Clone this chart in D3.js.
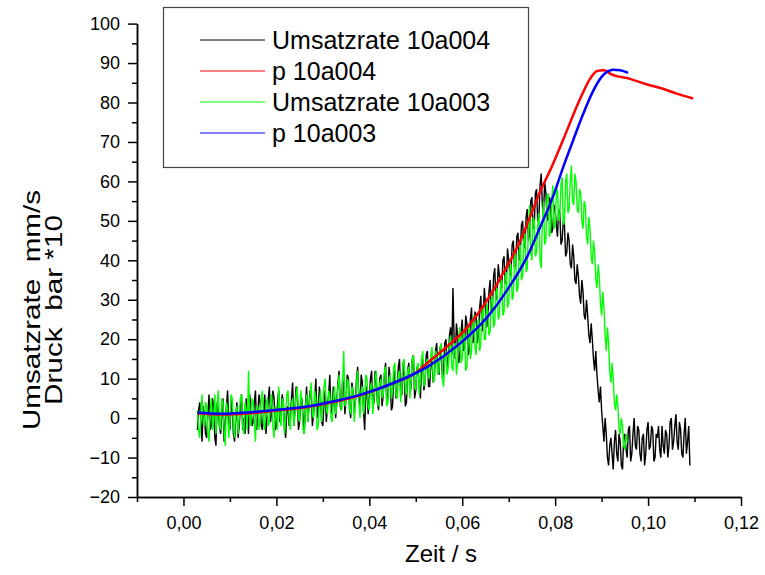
<!DOCTYPE html>
<html>
<head>
<meta charset="utf-8">
<script src="https://cdn.jsdelivr.net/npm/d3@7"></script>
<style>
  body { margin: 0; background: #fff; }
  svg { display: block; font-family: Arial, "Liberation Sans", sans-serif; }
</style>
</head>
<body>
<svg id="chart" width="765" height="575"></svg>
<script>
// noisy series are sampled every 0.25 ms starting at 3 ms
var t0 = 0.003, dt = 0.00025

var umsatz004 = [
  -3,2, 4,-1, -6,3, 1,-4, -5,1, 6,-3, -2,5, 3,-5, -7,4, 2,-2, -4,1, 5,-6, -1,3, 7,-2, -3,5, 2,-4, -6,0, 4,-5, -2,3, 6,-3,
  0,-4, 5,1, -4,6, 3,-2, -1,4, 7,-3, 1,6, 4,-2, -3,2, 6,-4, 0,5, 8,-1, 2,7, 5,-3, -2,4, 7,-1, 1,6, 4,-3, -5,2, 3,-2,
  0,5, 9,-2, 2,8, 6,-3, -1,4, 5,0, -4,3, 8,-1, 3,7, 6,-2, 1,5, 10,0, 2,8, 5,-1, -2,4, 7,-1, 3,6, 11,2, 1,8, 6,0,
  4,9, 12,3, 2,10, 8,1, 5,11, 10,2, 0,9, 7,1, 4,10, 13,5, 3,11, 9,2, -3,6, 8,1, 5,10, 12,3, 4,12, 9,4, 2,10, 11,3,
  6,11, 14,4, 5,13, 10,2, 3,10, 12,5, 7,13, 15,6, 6,14, 11,3, 4,12, 14,6, 8,15, 16,5, 7,13, 12,8, 5,14, 15,7, 9,16, 17,8,
  8,15, 14,9, 10,17, 19,12, 11,18, 16,10, 12,19, 20,13, 14,21, 23,16, 33,20, 15,24, 21,14, 16,22, 25,17, 18,26, 24,16, 17,25, 28,19, 20,27,
  26,19, 21,28, 31,22, 24,33, 29,23, 25,32, 35,27, 28,36, 38,30, 31,39, 36,34, 33,40, 41,34, 35,43, 40,36, 37,44, 45,38, 39,46, 47,40, 42,49,
  50,43, 44,51, 53,45, 47,55, 56,48, 49,57, 58,50, 51,59, 62,54, 52,60, 57,51, 50,56, 55,47, 48,54, 53,49, 46,53, 52,44, 45,50, 49,41, 42,47,
  45,39, 38,44, 41,35, 34,39, 36,31, 29,35, 32,26, 25,30, 26,21, 19,24, 20,15, 12,17, 11,7, 4,8, 2,-2, -6,0, -4,-10, -12,-7, -5,-9, -13,-6,
  -3,-9, -11,-4, -6,-12, -13,-5, -4,-8, -10,-3, -2,-11, -9,-4, 0,-7, -8,-2, -3,-9, -11,-5, -4,-12, -9,-3, -1,-8, -7,-2, -3,-11, -10,-4, -5,-2, -8,-10,
  -2,-7, -9,-3, -4,-10, -7,-1, 0,-8, -6,-2, 1,-6, -8,-1, -3,-9, -10,-4, 0,-9, -6,-2, -12
]

var umsatz003 = [
  2,-3, -5,1, 6,-1, -2,4, 3,-4, -6,2, 5,-3, 0,6, -4,3, 7,-2, -3,5, 4,-3, -7,4, 2,-5, -1,6, 5,-2, -5,2, 3,-4, 0,5, 6,-2,
  -4,4, 2,-3, 12,1, -2,5, 4,-1, -6,3, 3,-3, 0,5, 7,-1, -3,3, 5,-2, -1,4, 6,-2, -5,3, 2,-3, 8,1, -2,5, 4,-4, 0,6, 7,0,
  -3,4, 5,-2, 1,6, 8,0, -1,7, 4,-3, -4,2, 6,-1, 2,6, 9,1, 0,7, 5,-3, -2,4, 7,-1, 3,8, 10,2, 1,7, 6,0, -1,5, 8,1,
  3,8, 11,4, 2,9, 17,3, 4,10, 9,2, 1,8, 7,-1, 3,9, 12,4, 0,7, 8,1, 4,11, 10,3, 2,8, 9,1, 5,10, 12,4, 3,9, 10,5,
  6,12, 13,3, 4,10, 11,5, 7,13, 14,6, 5,11, 12,4, 8,14, 15,7, 6,12, 13,5, 9,15, 16,8, 7,13, 14,6, 10,15, 17,8, 9,14, 15,10,
  11,16, 18,9, 10,17, 16,11, 12,18, 19,10, 8,15, 17,11, 13,19, 21,13, 12,18, 19,11, 14,20, 23,14, 15,22, 21,12, 13,20, 24,15, 17,23, 26,18,
  16,24, 25,17, 19,27, 28,20, 20,29, 27,21, 22,30, 31,23, 24,32, 33,25, 26,34, 35,26, 27,36, 37,28, 29,38, 39,30, 31,40, 42,32, 33,42, 44,35,
  36,45, 47,37, 38,48, 54,42, 40,51, 50,41, 42,49, 52,40, 38,50, 55,44, 45,56, 57,46, 47,55, 59,48, 49,57, 58,50, 51,59, 61,49, 50,60, 62,52,
  53,60, 64,55, 54,62, 60,53, 52,58, 57,50, 48,55, 54,46, 44,51, 48,41, 39,45, 42,35, 33,39, 36,29, 26,32, 28,21, 17,23, 19,12, 9,14, 10,4,
  2,6, 3,-3, -4,0, -2,-7, -8,-4, -6
]

// smooth pressure curves: time (s) and value (bar*10)
var p004Time = [0.003, 0.008, 0.015, 0.02, 0.026, 0.032, 0.038, 0.045, 0.05, 0.0525, 0.0568,
  0.0611, 0.0654, 0.0682, 0.0725, 0.0746, 0.0768, 0.079, 0.0817, 0.0854, 0.0875, 0.089,
  0.0905, 0.092, 0.0961, 0.1, 0.1032, 0.106, 0.1097]
var p004Value = [1.2, 0.9, 1.3, 1.9, 2.7, 4.0, 5.8, 8.8, 11.5, 14.0, 18.2,
  23.0, 30.0, 35.5, 45.0, 51.0, 57.5, 63.0, 70.5, 81.0, 86.0, 88.0,
  88.2, 87.2, 86.0, 84.5, 83.5, 82.3, 81.0]

var p003Time = [0.003, 0.008, 0.0144, 0.0202, 0.0258, 0.0316, 0.038, 0.0452, 0.0525, 0.0596,
  0.0654, 0.0697, 0.074, 0.0768, 0.0795, 0.0817, 0.0839, 0.086, 0.088, 0.09, 0.0925, 0.094, 0.0957]
var p003Value = [1.4, 1.1, 1.5, 2.1, 2.8, 4.1, 5.9, 8.9, 13.0, 19.0,
  25.6, 32.5, 41.0, 48.5, 56.0, 63.5, 70.5, 77.0, 82.5, 86.5, 88.3, 88.2, 87.5]

var xMajor = [0, 0.02, 0.04, 0.06, 0.08, 0.10, 0.12]
var xMinor = [-0.01, 0.01, 0.03, 0.05, 0.07, 0.09, 0.11]
var yMajor = [-20, -10, 0, 10, 20, 30, 40, 50, 60, 70, 80, 90, 100]
var yMinor = [-15, -5, 5, 15, 25, 35, 45, 55, 65, 75, 85, 95]

var legendNames = ["Umsatzrate 10a004", "p 10a004", "Umsatzrate 10a003", "p 10a003"]
var colors = ["#000000", "#ff0000", "#00ff00", "#0000ff"]

const svg = d3.select("#chart")

const x = d3.scaleLinear().domain([-0.01, 0.12]).range([137, 741])
const y = d3.scaleLinear().domain([-20, 100]).range([497, 23.6])

const noisy = (arr) => arr.map((v, i) => ({ t: t0 + i * dt, v: v }))
const smooth = (ts, vs) => ts.map((t, i) => ({ t: t, v: vs[i] }))

const line = d3.line().x(d => x(d.t)).y(d => y(d.v))
const curve = d3.line().curve(d3.curveMonotoneX).x(d => x(d.t)).y(d => y(d.v))

// data lines
svg.append("path").datum(noisy(umsatz004))
  .attr("d", line).attr("fill", "none").attr("stroke", colors[0]).attr("stroke-width", 1.4)
svg.append("path").datum(noisy(umsatz003))
  .attr("d", line).attr("fill", "none").attr("stroke", colors[2]).attr("stroke-width", 1.4)
svg.append("path").datum(smooth(p004Time, p004Value))
  .attr("d", curve).attr("fill", "none").attr("stroke", colors[1]).attr("stroke-width", 2.5)
svg.append("path").datum(smooth(p003Time, p003Value))
  .attr("d", curve).attr("fill", "none").attr("stroke", colors[3]).attr("stroke-width", 2.5)

// axes
const fmt = d => d3.format(".2f")(d).replace(".", ",")

svg.append("g").attr("transform", "translate(0,497)")
  .call(d3.axisBottom(x).tickValues(xMinor).tickSize(5).tickFormat("").tickSizeOuter(0))
svg.append("g").attr("transform", "translate(0,497)")
  .call(d3.axisBottom(x).tickValues(xMajor).tickSize(9).tickPadding(10).tickFormat(fmt).tickSizeOuter(0))
svg.append("g").attr("transform", "translate(137,0)")
  .call(d3.axisLeft(y).tickValues(yMinor).tickSize(5).tickFormat("").tickSizeOuter(0))
svg.append("g").attr("transform", "translate(137,0)")
  .call(d3.axisLeft(y).tickValues(yMajor).tickSize(9).tickPadding(8).tickFormat(d3.format("d")).tickSizeOuter(0))

svg.selectAll(".domain, .tick line").attr("stroke", "#000").attr("stroke-width", 1.5)
svg.selectAll(".tick text").attr("font-size", 18).attr("fill", "#000")
  .attr("font-family", "Arial, 'Liberation Sans', sans-serif")

// axis titles
svg.append("text").attr("x", 441).attr("y", 562).attr("text-anchor", "middle")
  .attr("font-size", 24).text("Zeit / s")

const yTitle = svg.append("text").attr("transform", "translate(40,310) rotate(-90)")
  .attr("text-anchor", "middle").attr("font-size", 24)
yTitle.append("tspan").attr("x", 0).attr("y", 0)
  .attr("textLength", 240).attr("lengthAdjust", "spacingAndGlyphs")
  .text("Umsatzrate\u00a0\u00a0mm/s")
yTitle.append("tspan").attr("x", 0).attr("y", 22)
  .attr("textLength", 190).attr("lengthAdjust", "spacingAndGlyphs")
  .text("Druck\u00a0\u00a0bar *10")

// legend
const legend = svg.append("g")
legend.append("rect").attr("x", 163.5).attr("y", 7.5).attr("width", 365).attr("height", 160)
  .attr("fill", "#fff").attr("stroke", "#444").attr("stroke-width", 1.2)

const order = [0, 1, 2, 3]
const rows = legend.selectAll(".row").data(order).enter().append("g")
  .attr("transform", (d, i) => "translate(0," + (40 + i * 31) + ")")
rows.append("line").attr("x1", 200).attr("x2", 265).attr("y1", 0).attr("y2", 0)
  .attr("stroke", d => colors[d]).attr("stroke-width", 1)
rows.append("text").attr("x", 272).attr("y", 8.5).attr("font-size", 25)
  .text(d => legendNames[d])
</script>
</body>
</html>
